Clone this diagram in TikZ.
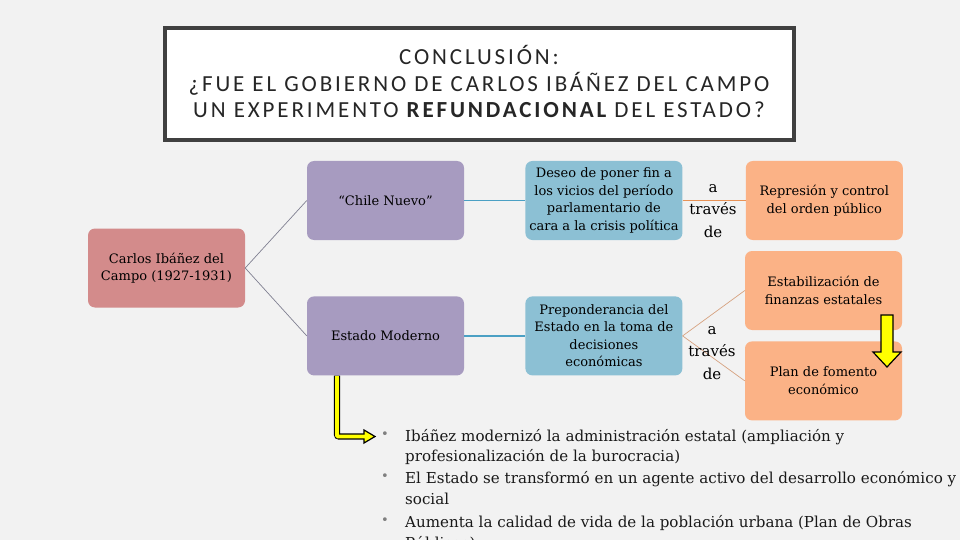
\documentclass[tikz,border=0pt]{standalone}
\usepackage{fontspec}
\setmainfont{DejaVu Serif}
\newfontfamily\titlefont[LetterSpace=12.5]{Carlito}
\usepackage{xcolor}
\usetikzlibrary{calc,positioning}
\definecolor{ibbg}{RGB}{242,242,242}
\definecolor{ibframe}{RGB}{64,64,64}
\definecolor{ibink}{RGB}{38,38,38}
\definecolor{ibrose}{RGB}{211,139,139}
\definecolor{iblila}{RGB}{167,155,192}
\definecolor{ibblue}{RGB}{140,192,212}
\definecolor{ibpeach}{RGB}{251,178,134}
\definecolor{ibteal}{RGB}{75,160,196}
\definecolor{iborange}{RGB}{232,146,86}
\definecolor{ibtan}{RGB}{214,162,128}
\definecolor{ibgrey}{RGB}{128,128,145}
\definecolor{ibyellow}{RGB}{255,255,0}

\begin{document}
\begin{tikzpicture}[
  x=1pt,y=-1pt,
  font=\fontsize{13}{17.5}\selectfont,
  box/.style={rounded corners=7pt,minimum width=157pt,minimum height=79pt,
              align=center,inner sep=2pt},
  root/.style={box,fill=ibrose},
  lila/.style={box,fill=iblila},
  azul/.style={box,fill=ibblue},
  peach/.style={box,fill=ibpeach},
  frame/.style={draw=ibframe,line width=4pt,fill=white,minimum width=629pt,
                minimum height=112pt},
  head/.style={align=center,text=ibink,inner sep=0pt,
               font=\titlefont\fontsize{23}{26.5}\selectfont},
  via/.style={font=\fontsize{15}{22.5}\selectfont,align=center,inner sep=0pt},
  item/.style={anchor=west,align=left,inner sep=0pt,text=black!90,
               font=\fontsize{15.1}{20.7}\selectfont},
  dot/.style={text=gray,font=\fontsize{13}{13}\selectfont,inner sep=0pt},
  twig/.style={ibgrey,line width=0.7pt},
  bough/.style={ibteal,line width=1.8pt},
  link/.style={iborange,line width=1.8pt},
  fork/.style={ibtan,line width=0.7pt},
  blockarr/.style={fill=ibyellow,draw=black,line width=1.2pt,line join=miter},
  node distance=56pt and 61pt
]
  \useasboundingbox (0,0) rectangle (960,540);
  \fill[ibbg] (0,0) rectangle (960,540);
  \clip (0,0) rectangle (960,540);

  \node[frame] (titlebox) at (479.5,84) {};
  \node[head] (title) at (479,81.5)
    {CONCLUSIÓN:\\¿FUE EL GOBIERNO DE CARLOS IBÁÑEZ DEL CAMPO\\UN EXPERIMENTO {\bfseries REFUNDACIONAL} DEL ESTADO?};

  \node[root] (carlos) at (166.5,268) {Carlos Ibáñez del\\Campo (1927-1931)};
  \node[lila] (chile) at (385.5,200.5) {“Chile Nuevo”};
  \node[lila,below=of chile] (moderno) {Estado Moderno};
  \node[azul,right=of chile] (deseo) {Deseo de poner fin a\\los vicios del período\\parlamentario de\\cara a la crisis política};
  \node[azul,right=of moderno] (prepon) {Preponderancia del\\Estado en la toma de\\decisiones\\económicas};
  \node[peach,right=63pt of deseo] (repres) {Represión y control\\del orden público};
  \node[peach] (estab) at (823.5,290.5) {Estabilización de\\finanzas estatales};
  \node[peach,below=11pt of estab] (plan) {Plan de fomento\\económico};

  \draw[twig] (carlos.east) -- (chile.west);
  \draw[twig] (carlos.east) -- (moderno.west);
  \draw[bough] (chile) -- (deseo);
  \draw[bough] (moderno) -- (prepon);
  \draw[link] (deseo) -- (repres);
  \draw[fork] (prepon.east) -- (estab.west);
  \draw[fork] (prepon.east) -- (plan.west);

  \node[via] (via1) at (713,211) {a\\través\\de};
  \node[via] (via2) at (712,353) {a\\través\\de};

  \coordinate (darr) at (887,315);
  \filldraw[blockarr] (darr) ++(-6,0) -- ++(12,0) -- ++(0,37) -- ++(8,0)
    -- ++(-14,15) -- ++(-14,-15) -- ++(8,0) -- cycle;

  \node[dot] (b1) at (385,435) {\textbullet};
  \node[item] (i1) at (405,447) {Ibáñez modernizó la administración estatal (ampliación y\\profesionalización de la burocracia)};
  \node[dot] (b2) at (385,477) {\textbullet};
  \node[item] (i2) at (405,488) {El Estado se transformó en un agente activo del desarrollo económico y\\social};
  \node[dot] (b3) at (385,521) {\textbullet};
  \node[item] (i3) at (405,533) {Aumenta la calidad de vida de la población urbana (Plan de Obras\\Públicas)};

  \coordinate (turn) at (337,436.5);
  \coordinate (tip) at (375,436.5);
  \draw[black,line width=6.2pt,rounded corners=2pt] (turn |- moderno.south) -- (turn) -- ($(tip)+(-11,0)$);
  \filldraw[blockarr] (tip) -- ++(-11,-6.5) -- ++(0,13) -- cycle;
  \draw[ibyellow,line width=3.6pt,rounded corners=1pt] ($(turn |- moderno.south)+(0,0.6)$) -- (turn) -- ($(tip)+(-9.8,0)$);
\end{tikzpicture}
\end{document}
